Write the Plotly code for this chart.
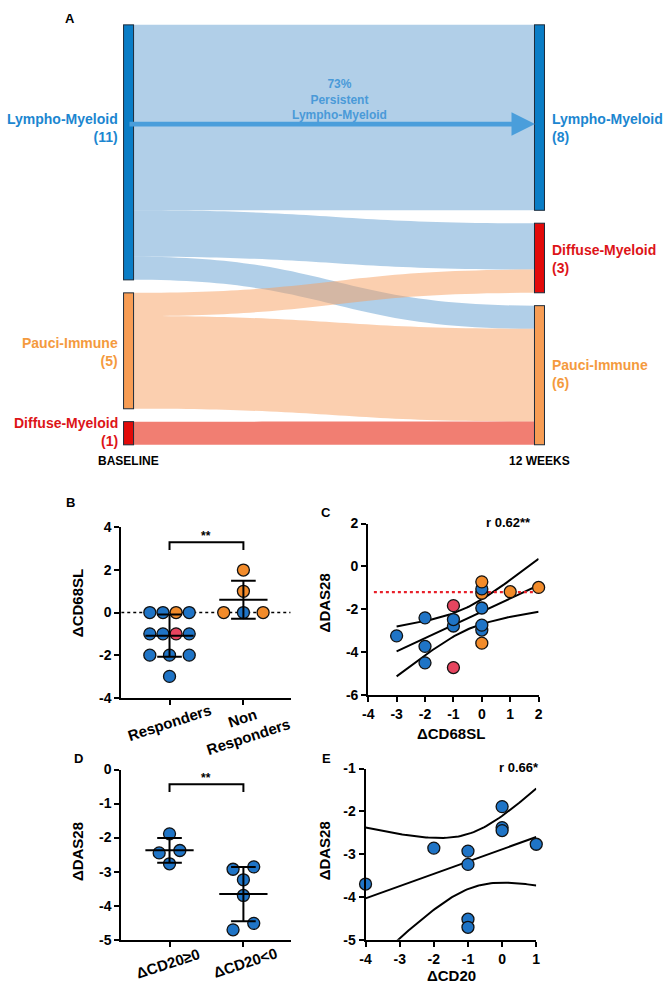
import numpy as np
import plotly.graph_objects as go

W, H = 669, 991
FONT = "Liberation Sans, Arial, Helvetica, sans-serif"

# ---------------- data ----------------
# Panel A: pathotype transitions baseline -> 12 weeks
baseline_order = ["Lympho-Myeloid", "Pauci-Immune", "Diffuse-Myeloid"]
week12_order = ["Lympho-Myeloid", "Diffuse-Myeloid", "Pauci-Immune"]
flow_source = ["Lympho-Myeloid", "Lympho-Myeloid", "Lympho-Myeloid",
               "Pauci-Immune", "Pauci-Immune", "Diffuse-Myeloid"]
flow_target = ["Lympho-Myeloid", "Diffuse-Myeloid", "Pauci-Immune",
               "Diffuse-Myeloid", "Pauci-Immune", "Pauci-Immune"]
flow_count = [8, 2, 1, 1, 4, 1]
timepoints = ["BASELINE", "12 WEEKS"]

# Panel B: delta CD68SL by clinical response (colour = pathotype)
resp_cd68 = [0, 0, 0, 0, -1, -1, -1, -1, -2, -2, -2, -3]
resp_type = ["LM", "LM", "PI", "LM", "LM", "LM", "DM", "LM", "LM", "LM", "LM", "LM"]
nonresp_cd68 = [0, 0, 0, 1, 2]
nonresp_type = ["PI", "LM", "PI", "PI", "PI"]
groups_B = ["Responders", "Non<br>Responders"]

# Panel C: delta DAS28 vs delta CD68SL
c_cd68 = [-3, -2, -2, -2, -1, -1, -1, -1, 0, 0, 0, 0, 0, 0, 0, 1, 2]
c_das28 = [-3.24, -2.40, -3.73, -4.50, -2.78, -2.48, -1.83, -4.72,
           -1.25, -1.05, -0.72, -1.94, -2.97, -2.74, -3.58, -1.18, -0.98]
c_type = ["LM", "LM", "LM", "LM", "LM", "LM", "DM", "DM",
          "PI", "LM", "PI", "LM", "LM", "LM", "PI", "PI", "PI"]
response_cutoff = -1.2

# Panels D/E: delta DAS28 vs delta CD20
cd20_delta = [-4, -2, -1, -1, -1, -1, 0, 0, 0, 1]
das28_cd20 = [-3.70, -2.86, -2.93, -3.24, -4.52, -4.71, -1.89, -2.38, -2.45, -2.77]
groups_D = ["ΔCD20≥0", "ΔCD20<0"]

r_text_C = "r 0.62**"
r_text_E = "r 0.66*"

# ---------------- styles ----------------
type_color = {"LM": "#1f74c6", "PI": "#f28b2a", "DM": "#e6455f"}
node_color = {"Lympho-Myeloid": "#0a7dc6", "Pauci-Immune": "#f79d55", "Diffuse-Myeloid": "#e20a0a"}
label_color = {"Lympho-Myeloid": "#1c86d0", "Pauci-Immune": "#f49a3e", "Diffuse-Myeloid": "#dd1418"}
link_color = {"Lympho-Myeloid": "rgba(100,160,210,0.5)", "Pauci-Immune": "rgba(247,160,96,0.5)",
              "Diffuse-Myeloid": "rgba(232,40,20,0.6)"}


def px(x):
    return x / W


def py(y):
    return 1 - y / H


fig = go.Figure()
annotations = []

# ---------------- Panel A: sankey ----------------
SK_L, SK_R, SK_T, SK_B = 124, 542, 17, 444
pad_px = 13
sk_h = SK_B - SK_T
n_nodes = baseline_order + week12_order
base_tot = {n: sum(c for s, c in zip(flow_source, flow_count) if s == n) for n in baseline_order}
wk_tot = {n: sum(c for t, c in zip(flow_target, flow_count) if t == n) for n in week12_order}
total = sum(flow_count)
k = (sk_h - 2 * pad_px) / total


def centers(order, tot):
    out, y = [], 0.0
    for n in order:
        h = tot[n] * k
        out.append((y + h / 2) / sk_h)
        y += h + pad_px
    return out


node_y = centers(baseline_order, base_tot) + centers(week12_order, wk_tot)
node_x = [0.001] * 3 + [0.999] * 3
src_idx = [baseline_order.index(s) for s in flow_source]
tgt_idx = [3 + week12_order.index(t) for t in flow_target]

fig.add_trace(go.Sankey(
    domain=dict(x=[px(SK_L), px(SK_R)], y=[py(SK_B), py(SK_T)]),
    arrangement="fixed",
    node=dict(label=[""] * 6, x=node_x, y=node_y, pad=pad_px, thickness=10,
              color=[node_color[n] for n in n_nodes],
              line=dict(color="#1d2b3a", width=1)),
    link=dict(source=src_idx, target=tgt_idx, value=flow_count,
              color=[link_color[s] for s in flow_source]),
    hoverinfo="none",
))

# node labels
left_label_y = [122, 350, 431]
right_label_y = [122, 255, 372]
for n, yy in zip(baseline_order, left_label_y):
    annotations.append(dict(x=px(116), y=py(yy), xref="paper", yref="paper",
                            text=f"<b>{n}<br>({base_tot[n]})</b>", showarrow=False,
                            xanchor="right", yanchor="middle", align="right",
                            font=dict(family=FONT, size=14, color=label_color[n])))
for n, yy in zip(week12_order, right_label_y):
    annotations.append(dict(x=px(552), y=py(yy), xref="paper", yref="paper",
                            text=f"<b>{n}<br>({wk_tot[n]})</b>", showarrow=False,
                            xanchor="left", yanchor="middle", align="left",
                            font=dict(family=FONT, size=14, color=label_color[n])))
for t, xx in zip(timepoints, [SK_L, SK_R]):
    annotations.append(dict(x=px(xx), y=py(460), xref="paper", yref="paper",
                            text=f"<b>{t}</b>", showarrow=False, xanchor="center", yanchor="middle",
                            font=dict(family=FONT, size=12, color="black")))

# persistent arrow + text
persist = flow_count[0] / base_tot["Lympho-Myeloid"] * 100
arrow_y = 118
annotations.append(dict(x=px(SK_R - 5), y=py(arrow_y), xref="paper", yref="paper",
                        ax=-(SK_R - 5 - (SK_L + 6)), ay=0, text="", showarrow=True,
                        arrowhead=2, arrowsize=1.0, arrowwidth=4.7, arrowcolor="#4a9edb"))
annotations.append(dict(x=px((SK_L + SK_R) / 2 + 6), y=py(93.5), xref="paper", yref="paper",
                        text=f"<b>{persist:.0f}%<br>Persistent<br>Lympho-Myeloid</b>", showarrow=False,
                        xanchor="center", yanchor="middle", align="center",
                        font=dict(family=FONT, size=12, color="#4a9ad8")))

# ---------------- axes helpers ----------------
axis_base = dict(showline=True, linewidth=2, linecolor="black", ticks="outside", ticklen=5,
                 tickwidth=2, tickcolor="black", showgrid=False, zeroline=False,
                 tickfont=dict(family=FONT, size=14, color="black", weight="bold"),
                 fixedrange=True)


def ticks(vals):
    return dict(tickvals=list(vals), ticktext=[f"{v:g}" for v in vals])


def make_axes(n, xl, xr, yt, yb, xrange, yrange, xt=None, yt_vals=None):
    xa = dict(axis_base, domain=[px(xl), px(xr)], range=xrange, anchor=f"y{n if n > 1 else ''}")
    ya = dict(axis_base, domain=[py(yb), py(yt)], range=yrange, anchor=f"x{n if n > 1 else ''}")
    if xt is not None:
        xa.update(ticks(xt))
    else:
        xa.update(showticklabels=False)
    ya.update(ticks(yt_vals))
    return xa, ya


B_box = (117, 289, 528, 701)
C_box = (367.7, 540.7, 524, 698.3)
D_box = (117, 289, 774, 947)
E_box = (365, 538.3, 773, 947)
cat_range = [1 - 49 / 75, 2 + 48 / 75]

xa1, ya1 = make_axes(1, *B_box, cat_range, [-4, 4], None, [-4, -2, 0, 2, 4])
xa1.update(tickvals=[1, 2], ticktext=["", ""])
xa2, ya2 = make_axes(2, *C_box, [-4, 2], [-6, 2], range(-4, 3), range(-6, 3, 2))
xa3, ya3 = make_axes(3, *D_box, cat_range, [-5, 0], None, range(-5, 1))
xa3.update(tickvals=[1, 2], ticktext=["", ""])
xa4, ya4 = make_axes(4, *E_box, [-4, 1], [-5, -1], range(-4, 2), range(-5, 0))


def px_per_unit_x(box, rng):
    return (box[1] - box[0]) / (rng[1] - rng[0])


def px_per_unit_y(box, rng):
    return (box[3] - box[2]) / (rng[1] - rng[0])


def swarm(values, ppu_y, gap_px=8, max_span=40, max_step=21):
    vals = np.asarray(values, float)
    order = sorted(range(len(vals)), key=lambda i: (-vals[i], i))
    clusters, cur = [], [order[0]]
    for a, b in zip(order[:-1], order[1:]):
        if (vals[a] - vals[b]) * ppu_y > gap_px:
            clusters.append(cur)
            cur = [b]
        else:
            cur.append(b)
    clusters.append(cur)
    off = np.zeros(len(vals))
    for cl in clusters:
        cl = sorted(cl, key=lambda i: (vals[i], i)) if len(set(vals[cl])) > 1 else sorted(cl)
        n = len(cl)
        if n == 1:
            continue
        step = min(max_step, max_span / (n - 1))
        for j, i in enumerate(cl):
            off[i] = (j - (n - 1) / 2) * step
    return off


marker_line = dict(color="#111111", width=1.3)


def bar_traces(groups_vals, xa_name, ya_name, ppu_x):
    hw, cw = 24.5 / ppu_x, 12.5 / ppu_x
    xs, ys = [], []
    for c, v in enumerate(groups_vals, start=1):
        m, s = np.mean(v), np.std(v, ddof=1)
        xs += [c - hw, c + hw, None, c, c, None, c - cw, c + cw, None, c - cw, c + cw, None]
        ys += [m, m, None, m - s, m + s, None, m - s, m - s, None, m + s, m + s, None]
    return go.Scatter(x=xs, y=ys, mode="lines", line=dict(color="black", width=2),
                      xaxis=xa_name, yaxis=ya_name, hoverinfo="skip", showlegend=False)


# ---------------- Panel B ----------------
ppx_B = px_per_unit_x(B_box, cat_range)
ppy_B = px_per_unit_y(B_box, [-4, 4])
fig.add_trace(go.Scatter(x=list(cat_range), y=[0, 0], mode="lines",
                         line=dict(color="black", width=1.5, dash="dot"),
                         xaxis="x", yaxis="y", hoverinfo="skip", showlegend=False))
for c, (vals, types) in enumerate([(resp_cd68, resp_type), (nonresp_cd68, nonresp_type)], start=1):
    off = swarm(vals, ppy_B) / ppx_B
    fig.add_trace(go.Scatter(x=c + off, y=vals, mode="markers", cliponaxis=False,
                             marker=dict(size=12, color=[type_color[t] for t in types], line=marker_line),
                             xaxis="x", yaxis="y", hoverinfo="skip", showlegend=False))
fig.add_trace(bar_traces([resp_cd68, nonresp_cd68], "x", "y", ppx_B))
br_y, br_d = 3.31, 0.37
fig.add_trace(go.Scatter(x=[1, 1, 2, 2], y=[br_y - br_d, br_y, br_y, br_y - br_d], mode="lines",
                         line=dict(color="black", width=2), xaxis="x", yaxis="y",
                         hoverinfo="skip", showlegend=False, cliponaxis=False))
annotations.append(dict(x=1.5, y=br_y, xref="x", yref="y", text="<b>**</b>", showarrow=False,
                        yanchor="bottom", font=dict(family=FONT, size=12, color="black"), yshift=-3))

# ---------------- Panel C ----------------
t_table = {8: 2.306, 15: 2.131}


def fit_ci(x, y):
    x, y = np.asarray(x, float), np.asarray(y, float)
    n = len(x)
    xm, ym = x.mean(), y.mean()
    sxx = ((x - xm) ** 2).sum()
    b = ((x - xm) * (y - ym)).sum() / sxx
    a = ym - b * xm
    s = np.sqrt(((y - (a + b * x)) ** 2).sum() / (n - 2))
    xs = np.linspace(x.min(), x.max(), 80)
    yh = a + b * xs
    se = s * np.sqrt(1 / n + (xs - xm) ** 2 / sxx)
    t = t_table[n - 2]
    return xs, yh, yh - t * se, yh + t * se


xs, yh, lo, hi = fit_ci(c_cd68, c_das28)
for yy in (yh, lo, hi):
    fig.add_trace(go.Scatter(x=xs, y=yy, mode="lines", line=dict(color="black", width=2),
                             xaxis="x2", yaxis="y2", hoverinfo="skip", showlegend=False))
fig.add_trace(go.Scatter(x=[-3.8, 2], y=[response_cutoff] * 2, mode="lines",
                         line=dict(color="#e8202a", width=2.2, dash="dot"),
                         xaxis="x2", yaxis="y2", hoverinfo="skip", showlegend=False))
fig.add_trace(go.Scatter(x=c_cd68, y=c_das28, mode="markers", cliponaxis=False,
                         marker=dict(size=12, color=[type_color[t] for t in c_type], line=marker_line),
                         xaxis="x2", yaxis="y2", hoverinfo="skip", showlegend=False))

# ---------------- Panel D ----------------
ppx_D = px_per_unit_x(D_box, cat_range)
ppy_D = px_per_unit_y(D_box, [-5, 0])
d_groups = [[v for c, v in zip(cd20_delta, das28_cd20) if c >= 0],
            [v for c, v in zip(cd20_delta, das28_cd20) if c < 0]]
for c, vals in enumerate(d_groups, start=1):
    off = swarm(vals, ppy_D) / ppx_D
    fig.add_trace(go.Scatter(x=c + off, y=vals, mode="markers", cliponaxis=False,
                             marker=dict(size=12, color=type_color["LM"], line=marker_line),
                             xaxis="x3", yaxis="y3", hoverinfo="skip", showlegend=False))
fig.add_trace(bar_traces(d_groups, "x3", "y3", ppx_D))
bd_y, bd_d = -0.43, 0.23
fig.add_trace(go.Scatter(x=[1, 1, 2, 2], y=[bd_y - bd_d, bd_y, bd_y, bd_y - bd_d], mode="lines",
                         line=dict(color="black", width=2), xaxis="x3", yaxis="y3",
                         hoverinfo="skip", showlegend=False, cliponaxis=False))
annotations.append(dict(x=1.5, y=bd_y, xref="x3", yref="y3", text="<b>**</b>", showarrow=False,
                        yanchor="bottom", font=dict(family=FONT, size=12, color="black"), yshift=-3))

# ---------------- Panel E ----------------
xs, yh, lo, hi = fit_ci(cd20_delta, das28_cd20)
for yy in (yh, lo, hi):
    fig.add_trace(go.Scatter(x=xs, y=yy, mode="lines", line=dict(color="black", width=2),
                             xaxis="x4", yaxis="y4", hoverinfo="skip", showlegend=False))
fig.add_trace(go.Scatter(x=cd20_delta, y=das28_cd20, mode="markers", cliponaxis=False,
                         marker=dict(size=12, color=type_color["LM"], line=marker_line),
                         xaxis="x4", yaxis="y4", hoverinfo="skip", showlegend=False))


# ---------------- text ----------------
def txt(x, y, s, size=15, angle=0, xanchor="center", color="black"):
    annotations.append(dict(x=px(x), y=py(y), xref="paper", yref="paper", text=f"<b>{s}</b>",
                            showarrow=False, xanchor=xanchor, yanchor="middle", textangle=angle,
                            align="center", font=dict(family=FONT, size=size, color=color)))


for letter, (lx, ly) in zip("ABCDE", [(65, 11), (65, 503), (325, 513), (74, 763), (325, 763)]):
    txt(lx, ly, letter, size=13)

txt(72, 605, "ΔCD68SL", angle=-90)
txt(323, 605, "ΔDAS28", angle=-90)
txt(72, 857, "ΔDAS28", angle=-90)
txt(323, 857, "ΔDAS28", angle=-90)
txt(452, 737, "ΔCD68SL")
txt(452, 983, "ΔCD20")
txt(535, 523, r_text_C, size=13, xanchor="right")
txt(543, 772, r_text_E, size=13, xanchor="right")

for g, (gx, gy) in zip(groups_B, [(166, 726), (243, 731)]):
    txt(gx, gy, g, angle=-18)
for g, (gx, gy) in zip(groups_D, [(164, 971), (243, 970)]):
    txt(gx, gy, g, angle=-18)

fig.update_layout(
    width=W, height=H, autosize=False,
    margin=dict(l=0, r=0, t=0, b=0),
    paper_bgcolor="white", plot_bgcolor="white",
    font=dict(family=FONT),
    showlegend=False,
    xaxis=xa1, yaxis=ya1, xaxis2=xa2, yaxis2=ya2,
    xaxis3=xa3, yaxis3=ya3, xaxis4=xa4, yaxis4=ya4,
    annotations=annotations,
)

fig.write_html("out.html", config={"displayModeBar": False},
               post_script="document.body.style.margin='0';document.body.style.padding='0';")
